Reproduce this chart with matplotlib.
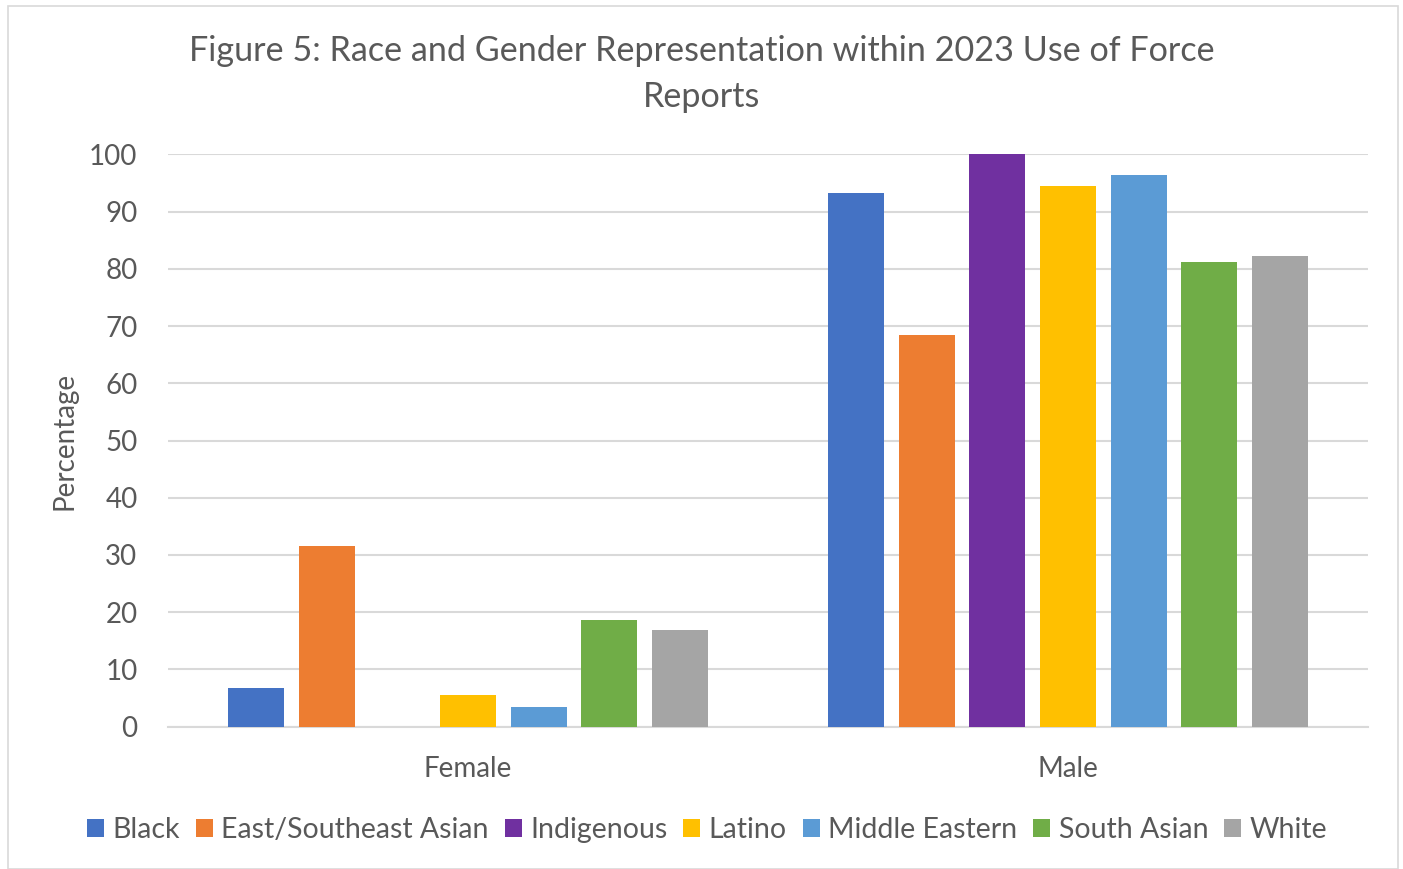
import numpy as np
import matplotlib
matplotlib.use("Agg")
from matplotlib import pyplot as plt
from matplotlib.patches import Rectangle

plt.rcParams['font.family'] = ['Lato', 'DejaVu Sans']

genders = ["Female", "Male"]
races = ["Black", "East/Southeast Asian", "Indigenous", "Latino",
         "Middle Eastern", "South Asian", "White"]
female = [6.8, 31.6, 0.0, 5.5, 3.4, 18.7, 16.9]
male = [93.2, 68.4, 100.0, 94.4, 96.4, 81.2, 82.3]
colors = ["#4472C4", "#ED7D31", "#7030A0", "#FFC000", "#5B9BD5", "#70AD47", "#A5A5A5"]
yticks = [0, 10, 20, 30, 40, 50, 60, 70, 80, 90, 100]

text_color = "#595959"
grid_color = "#D9D9D9"

fig = plt.figure(figsize=(14.03, 8.69), dpi=100)
ax = fig.add_axes([168 / 1403, 1 - 726.7 / 869, 1200 / 1403, (726.7 - 154.3) / 869])

x = np.arange(len(genders))
step = 0.1178
width = 0.093
for i, race in enumerate(races):
    vals = [female[i], male[i]]
    ax.bar(x + (i - 3) * step, vals, width, color=colors[i], label=race, zorder=3)

ax.set_xlim(-0.5, 1.5)
ax.set_ylim(0, 100)
ax.set_yticks(yticks)
ax.set_xticks(x)
ax.set_xticklabels(genders)
ax.tick_params(axis='both', length=0, labelsize=20, colors=text_color)
ax.tick_params(axis='x', pad=21)
ax.tick_params(axis='y', pad=22)
ax.yaxis.grid(True, color=grid_color, linewidth=1.5, zorder=0)
for s in ["top", "right", "left"]:
    ax.spines[s].set_visible(False)
ax.spines["bottom"].set_color(grid_color)
ax.spines["bottom"].set_linewidth(1.5)
ax.set_ylabel("Percentage", fontsize=20, color=text_color, labelpad=8)

fig.text(0.5, 1 - 74 / 869, "Figure 5: Race and Gender Representation within 2023 Use of Force\nReports",
         ha='center', va='center', fontsize=24.6, color=text_color, linespacing=1.55)

leg = fig.legend(loc='center', bbox_to_anchor=(0.504, 1 - 830 / 869), ncol=7, frameon=False,
                 fontsize=20.5, handlelength=0.6, handleheight=0.6, handletextpad=0.3,
                 columnspacing=0.55)
for t in leg.get_texts():
    t.set_color(text_color)

fig.patches.append(Rectangle((8 / 1403, 0), 1390 / 1403, 1 - 6 / 869, transform=fig.transFigure,
                             fill=False, edgecolor="#D9D9D9", linewidth=1.2))

fig.savefig("out.png", dpi=100)
